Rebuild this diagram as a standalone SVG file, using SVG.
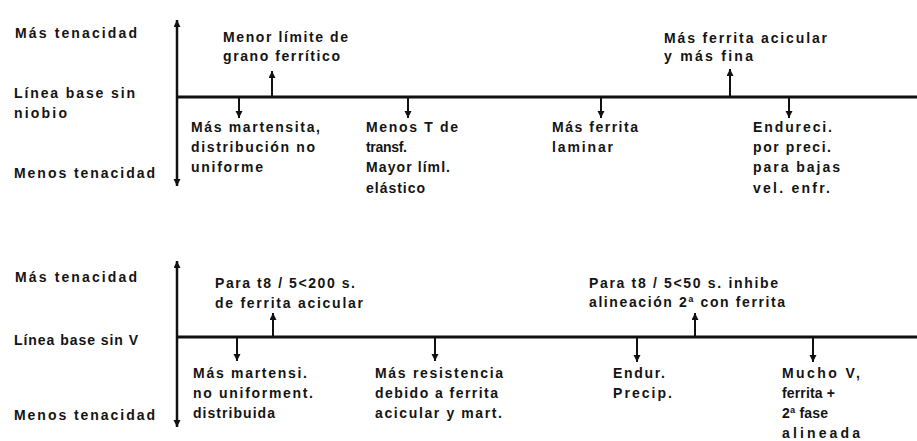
<svg xmlns="http://www.w3.org/2000/svg" width="917" height="441" viewBox="0 0 917 441">
<style>
text{font-family:"Liberation Sans",Arial,sans-serif;font-weight:bold;font-size:14px;fill:#141414}
.ax{stroke:#111;stroke-width:2.5;fill:none}
.base{stroke:#111;stroke-width:3;fill:none}
.tk{stroke:#111;stroke-width:2;fill:none}
</style>
<defs>
<marker id="ah" markerUnits="userSpaceOnUse" markerWidth="8" markerHeight="8" refX="7" refY="3.5" orient="auto-start-reverse"><path d="M0,0 L7,3.5 L0,7 z" fill="#111"/></marker>
</defs>
<rect width="917" height="441" fill="#fff"/>

<g id="connectors">
<line class="ax" x1="177" y1="20" x2="177" y2="186" marker-start="url(#ah)" marker-end="url(#ah)"/>
<line class="base" x1="177" y1="97" x2="917" y2="97"/>
<line class="tk" x1="239" y1="97" x2="239" y2="118" marker-end="url(#ah)"/>
<line class="tk" x1="272" y1="97" x2="272" y2="71" marker-end="url(#ah)"/>
<line class="tk" x1="408" y1="97" x2="408" y2="118" marker-end="url(#ah)"/>
<line class="tk" x1="601" y1="97" x2="601" y2="118" marker-end="url(#ah)"/>
<line class="tk" x1="730" y1="97" x2="730" y2="69" marker-end="url(#ah)"/>
<line class="tk" x1="789" y1="97" x2="789" y2="118" marker-end="url(#ah)"/>

<line class="ax" x1="177" y1="261" x2="177" y2="427" marker-start="url(#ah)" marker-end="url(#ah)"/>
<line class="base" x1="177" y1="337" x2="917" y2="337"/>
<line class="tk" x1="237" y1="337" x2="237" y2="361" marker-end="url(#ah)"/>
<line class="tk" x1="273" y1="337" x2="273" y2="313" marker-end="url(#ah)"/>
<line class="tk" x1="435" y1="337" x2="435" y2="361" marker-end="url(#ah)"/>
<line class="tk" x1="637" y1="337" x2="637" y2="362" marker-end="url(#ah)"/>
<line class="tk" x1="695" y1="337" x2="695" y2="313" marker-end="url(#ah)"/>
<line class="tk" x1="813" y1="337" x2="813" y2="362" marker-end="url(#ah)"/>
</g>

<g id="axis1-labels">
<text x="15" y="38" textLength="122" lengthAdjust="spacing">Más tenacidad</text>
<text x="14" y="98" textLength="121" lengthAdjust="spacing">Línea base sin</text>
<text x="14" y="118" textLength="53" lengthAdjust="spacing">niobio</text>
<text x="14" y="178" textLength="141" lengthAdjust="spacing">Menos tenacidad</text>
</g>
<g id="n1-martensita">
<text x="191" y="132" textLength="129" lengthAdjust="spacing">Más martensita,</text>
<text x="191" y="152" textLength="124" lengthAdjust="spacing">distribución no</text>
<text x="191" y="172" textLength="72" lengthAdjust="spacing">uniforme</text>
</g>
<g id="n1-limite">
<text x="223" y="42" textLength="125" lengthAdjust="spacing">Menor límite de</text>
<text x="223" y="61" textLength="117" lengthAdjust="spacing">grano ferrítico</text>
</g>
<g id="n1-transf">
<text x="366" y="132" textLength="92" lengthAdjust="spacing">Menos T de</text>
<text x="366" y="152" textLength="41" lengthAdjust="spacing">transf.</text>
<text x="366" y="172" textLength="84" lengthAdjust="spacing">Mayor líml.</text>
<text x="366" y="193" textLength="59" lengthAdjust="spacing">elástico</text>
</g>
<g id="n1-laminar">
<text x="552" y="132" textLength="86" lengthAdjust="spacing">Más ferrita</text>
<text x="552" y="152" textLength="61" lengthAdjust="spacing">laminar</text>
</g>
<g id="n1-acicular">
<text x="664" y="43" textLength="163" lengthAdjust="spacing">Más ferrita acicular</text>
<text x="664" y="61" textLength="89" lengthAdjust="spacing">y más fina</text>
</g>
<g id="n1-endureci">
<text x="753" y="132" textLength="79" lengthAdjust="spacing">Endureci.</text>
<text x="753" y="152" textLength="78" lengthAdjust="spacing">por preci.</text>
<text x="753" y="172" textLength="87" lengthAdjust="spacing">para bajas</text>
<text x="753" y="193" textLength="77" lengthAdjust="spacing">vel. enfr.</text>
</g>

<g id="axis2-labels">
<text x="15" y="282" textLength="122" lengthAdjust="spacing">Más tenacidad</text>
<text x="14" y="345" textLength="124" lengthAdjust="spacing">Línea base sin V</text>
<text x="14" y="420" textLength="141" lengthAdjust="spacing">Menos tenacidad</text>
</g>
<g id="n2-martensi">
<text x="193" y="378" textLength="114" lengthAdjust="spacing">Más martensi.</text>
<text x="193" y="398" textLength="120" lengthAdjust="spacing">no uniforment.</text>
<text x="193" y="418" textLength="82" lengthAdjust="spacing">distribuida</text>
</g>
<g id="n2-t8-200">
<text x="215" y="288" textLength="140" lengthAdjust="spacing">Para t8 / 5&lt;200 s.</text>
<text x="215" y="308" textLength="148" lengthAdjust="spacing">de ferrita acicular</text>
</g>
<g id="n2-resistencia">
<text x="375" y="378" textLength="128" lengthAdjust="spacing">Más resistencia</text>
<text x="375" y="398" textLength="123" lengthAdjust="spacing">debido a ferrita</text>
<text x="375" y="418" textLength="127" lengthAdjust="spacing">acicular y mart.</text>
</g>
<g id="n2-endur">
<text x="613" y="378" textLength="52" lengthAdjust="spacing">Endur.</text>
<text x="613" y="398" textLength="59" lengthAdjust="spacing">Precip.</text>
</g>
<g id="n2-t8-50">
<text x="589" y="288" textLength="189" lengthAdjust="spacing">Para t8 / 5&lt;50 s. inhibe</text>
<text x="589" y="307" textLength="196" lengthAdjust="spacing">alineación 2ª con ferrita</text>
</g>
<g id="n2-muchov">
<text x="782" y="378" textLength="78" lengthAdjust="spacing">Mucho V,</text>
<text x="782" y="398" textLength="53" lengthAdjust="spacing">ferrita +</text>
<text x="782" y="418" textLength="46" lengthAdjust="spacing">2ª fase</text>
<text x="782" y="438" textLength="78" lengthAdjust="spacing">alineada</text>
</g>
</svg>
